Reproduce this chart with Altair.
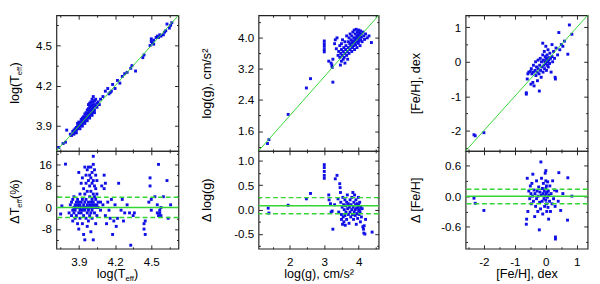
import altair as alt
import pandas as pd

FONT = "Liberation Sans"
BLUE = "#1010e6"
GREEN = "#33d633"
FRAME = "#222222"

# ---------------- data ----------------
# Panel 1: log(Teff)
teff_top = [
    (3.735, 3.74), (3.77, 3.77), (3.79, 3.78), (3.80, 3.87), (3.83, 3.84), (3.84, 3.83),
    (3.85, 3.86), (3.86, 3.85), (3.86, 3.87), (3.87, 3.86), (3.87, 3.88), (3.88, 3.87),
    (3.88, 3.89), (3.89, 3.88), (3.89, 3.90), (3.90, 3.89), (3.90, 3.91), (3.90, 3.93),
    (3.91, 3.90), (3.91, 3.92), (3.92, 3.91), (3.92, 3.93), (3.92, 3.95), (3.93, 3.92),
    (3.93, 3.94), (3.93, 3.96), (3.94, 3.93), (3.94, 3.95), (3.94, 3.97), (3.95, 3.94),
    (3.95, 3.96), (3.95, 3.99), (3.96, 3.95), (3.96, 3.97), (3.96, 4.00), (3.97, 3.96),
    (3.97, 3.99), (3.97, 4.02), (3.98, 3.97), (3.98, 4.00), (3.98, 4.03), (3.98, 4.06),
    (3.99, 3.98), (3.99, 4.01), (3.99, 4.04), (3.99, 4.07), (4.00, 3.99), (4.00, 4.02),
    (4.00, 4.05), (4.00, 4.08), (4.01, 4.00), (4.01, 4.03), (4.01, 4.06), (4.01, 4.10),
    (4.02, 4.01), (4.02, 4.04), (4.02, 4.08), (4.02, 4.12), (4.03, 4.02), (4.03, 4.06),
    (4.03, 4.09), (4.04, 4.05), (4.04, 4.10), (4.05, 4.04), (4.05, 4.07), (4.06, 4.08),
    (4.07, 4.06), (4.08, 4.10), (4.10, 4.12), (4.12, 4.16), (4.14, 4.18), (4.15, 4.14),
    (4.16, 4.15), (4.17, 4.16), (4.18, 4.21), (4.20, 4.18), (4.22, 4.24), (4.24, 4.22),
    (4.26, 4.27), (4.28, 4.29), (4.30, 4.30), (4.33, 4.33), (4.34, 4.35), (4.37, 4.31),
    (4.43, 4.41), (4.44, 4.43), (4.49, 4.50), (4.50, 4.53), (4.50, 4.55), (4.51, 4.52),
    (4.52, 4.54), (4.52, 4.51), (4.54, 4.56), (4.55, 4.57), (4.56, 4.56), (4.57, 4.58),
    (4.58, 4.57), (4.60, 4.58), (4.61, 4.60), (4.62, 4.61), (4.63, 4.66), (4.65, 4.63),
    (4.66, 4.65), (4.67, 4.67), (3.86, 3.84), (3.88, 3.85), (3.89, 3.92), (3.91, 3.88),
    (3.93, 3.90), (3.95, 3.92), (3.97, 3.94), (3.99, 3.96), (4.01, 3.98), (4.03, 4.00),
]
teff_res = [
    (3.75, -2.4), (3.76, 0.6), (3.79, 16.1), (3.82, -2), (3.83, 1), (3.84, -3), (3.84, 2),
    (3.85, -1), (3.85, 3), (3.85, -5), (3.86, 0), (3.86, -2), (3.86, 4), (3.87, -4),
    (3.87, 1), (3.87, -1), (3.88, 2), (3.88, -3), (3.88, 0), (3.89, -6), (3.89, 1),
    (3.89, 3), (3.90, -2), (3.90, 0), (3.90, 2), (3.90, -8), (3.90, 13), (3.91, -1),
    (3.91, 1), (3.91, -4), (3.91, 5), (3.92, 0), (3.92, 2), (3.92, -2), (3.92, 9),
    (3.93, -1), (3.93, 3), (3.93, -6), (3.93, 11), (3.94, 0), (3.94, 1), (3.94, -3),
    (3.94, 7), (3.94, -10), (3.95, 2), (3.95, -1), (3.95, 15), (3.95, 5), (3.95, -12),
    (3.96, 0), (3.96, 3), (3.96, -4), (3.96, 9), (3.96, 12), (3.97, 1), (3.97, -2),
    (3.97, 6), (3.97, 14), (3.97, -7), (3.98, 0), (3.98, 2), (3.98, -1), (3.98, 10),
    (3.98, 15), (3.98, -5), (3.99, 1), (3.99, -3), (3.99, 4), (3.99, 8), (3.99, 12),
    (4.00, 0), (4.00, 2), (4.00, -2), (4.00, 6), (4.00, 11), (4.00, 15), (4.00, -9),
    (4.01, 1), (4.01, -1), (4.01, 3), (4.01, 9), (4.01, 13), (4.01, -4), (4.02, 0),
    (4.02, 2), (4.02, 5), (4.02, 10), (4.02, 16), (4.02, 19), (4.02, -12), (4.03, 1),
    (4.03, -2), (4.03, 4), (4.03, 8), (4.03, 14), (4.04, 0), (4.04, 3), (4.04, 7),
    (4.04, 12), (4.04, -6), (4.05, 1), (4.05, 5), (4.05, 10), (4.05, -3), (4.06, 2),
    (4.06, 0), (4.08, 2), (4.08, -1), (4.09, 8), (4.10, 1), (4.11, 12), (4.11, 7),
    (4.12, 9), (4.12, -3), (4.13, -6), (4.14, 2), (4.15, -1), (4.16, -4), (4.17, 3),
    (4.18, -10), (4.19, -5), (4.20, 1), (4.21, -7), (4.22, -4), (4.23, 9), (4.25, -1),
    (4.26, 3), (4.27, -5), (4.28, -2), (4.30, 1), (4.32, -2), (4.33, -14), (4.35, -3),
    (4.36, -2), (4.44, -6), (4.44, -8), (4.45, -10), (4.45, -5), (4.48, 2), (4.49, 11),
    (4.49, 8), (4.50, 3), (4.50, -1), (4.53, 4), (4.55, -2), (4.55, 1), (4.56, -3),
    (4.56, 16), (4.57, -1), (4.57, -2), (4.58, 0), (4.58, -3), (4.60, 4), (4.63, 10),
    (4.64, -4), (4.66, 1),
]

# Panel 2: log(g)
logg_top = [
    (1.35, 1.28), (1.39, 1.38), (1.95, 2.03), (2.48, 2.71), (2.60, 2.95), (3.13, 3.40),
    (3.23, 3.24), (3.25, 2.86), (3.00, 3.64), (3.00, 3.70), (3.00, 3.78), (3.00, 3.85),
    (3.00, 3.92), (3.20, 3.35), (3.22, 3.30), (3.25, 3.45), (3.30, 3.85), (3.32, 3.95),
    (3.35, 3.72), (3.37, 4.00), (3.40, 3.55), (3.42, 3.65), (3.45, 3.50), (3.45, 3.80),
    (3.47, 3.30), (3.48, 3.60), (3.50, 3.40), (3.50, 3.70), (3.50, 3.85), (3.52, 3.55),
    (3.53, 3.95), (3.55, 3.45), (3.55, 3.65), (3.57, 3.75), (3.58, 3.50), (3.60, 3.60),
    (3.60, 3.90), (3.60, 3.35), (3.62, 3.70), (3.63, 3.80), (3.65, 3.55), (3.65, 4.05),
    (3.67, 3.65), (3.68, 3.45), (3.70, 3.75), (3.70, 3.90), (3.72, 3.60), (3.72, 4.00),
    (3.74, 3.85), (3.75, 3.70), (3.75, 4.10), (3.77, 3.80), (3.78, 3.95), (3.80, 3.65),
    (3.80, 4.05), (3.80, 3.88), (3.82, 3.75), (3.83, 4.15), (3.84, 3.92), (3.85, 3.80),
    (3.86, 4.00), (3.87, 4.20), (3.88, 3.70), (3.88, 3.88), (3.90, 4.10), (3.90, 3.95),
    (3.91, 3.82), (3.92, 4.00), (3.93, 4.22), (3.94, 3.90), (3.95, 4.05), (3.95, 3.75),
    (3.96, 4.15), (3.97, 3.98), (3.98, 4.08), (3.99, 3.86), (4.00, 4.20), (4.00, 4.00),
    (4.01, 3.92), (4.02, 4.12), (4.03, 4.05), (4.04, 3.80), (4.05, 4.18), (4.06, 3.95),
    (4.07, 4.10), (4.08, 4.02), (4.10, 3.90), (4.12, 4.15), (4.15, 4.05), (4.17, 3.96),
    (4.20, 4.10), (4.25, 4.00), (4.30, 4.05), (4.37, 3.88),
]
logg_res = [
    (1.37, 0.03), (1.39, -0.07), (1.95, 0.09), (2.48, 0.22), (2.60, 0.33), (3.00, 0.92),
    (3.00, 0.86), (3.00, 0.78), (3.00, 0.70), (3.00, 0.64), (3.13, 0.30), (3.14, 0.20),
    (3.18, 0.12), (3.20, -0.05), (3.23, -0.03), (3.25, -0.40), (3.30, 0.10), (3.32, 0.63),
    (3.37, 0.70), (3.40, 0.22), (3.42, -0.05), (3.45, 0.53), (3.46, 0.45), (3.47, 0.35),
    (3.48, 0.15), (3.50, -0.10), (3.50, -0.20), (3.52, 0.05), (3.53, -0.30), (3.54, 0.25),
    (3.55, -0.15), (3.56, 0.10), (3.57, -0.25), (3.58, 0.00), (3.60, 0.20), (3.60, -0.12),
    (3.61, -0.32), (3.62, 0.08), (3.63, -0.05), (3.65, 0.15), (3.65, -0.20), (3.67, 0.30),
    (3.68, 0.02), (3.70, -0.10), (3.70, 0.12), (3.72, -0.28), (3.73, 0.05), (3.75, 0.20),
    (3.75, -0.05), (3.77, -0.15), (3.78, 0.10), (3.80, 0.00), (3.80, 0.25), (3.82, -0.10),
    (3.83, 0.35), (3.84, 0.05), (3.85, -0.20), (3.86, 0.15), (3.87, -0.05), (3.88, 0.30),
    (3.90, 0.00), (3.90, -0.12), (3.91, 0.10), (3.92, 0.20), (3.93, -0.30), (3.94, 0.03),
    (3.95, -0.08), (3.96, 0.12), (3.97, -0.18), (3.98, 0.05), (3.99, 0.25), (4.00, -0.02),
    (4.00, 0.10), (4.01, -0.10), (4.02, 0.00), (4.03, 0.15), (4.04, -0.05), (4.05, -0.25),
    (4.06, 0.05), (4.08, -0.15), (4.10, 0.02), (4.12, -0.35), (4.14, -0.40), (4.16, -0.33),
    (4.15, -0.48), (4.18, -0.50), (4.20, -0.20), (4.39, -0.46),
]

# Panel 3: [Fe/H]
feh_top = [
    (-2.32, -2.12), (-2.28, -2.15), (-2.00, -2.06), (-0.63, -0.94), (-0.63, -0.90),
    (-0.60, -0.50), (-0.58, -0.35), (-0.55, -0.30), (-0.50, -0.28), (-0.48, -0.65),
    (-0.47, -0.20), (-0.45, -0.35), (-0.42, -0.60), (-0.40, -0.10), (-0.40, -0.30),
    (-0.38, -0.70), (-0.35, -0.25), (-0.33, 0.00), (-0.32, -0.40), (-0.30, -0.15),
    (-0.28, -0.30), (-0.27, -0.55), (-0.25, 0.05), (-0.25, -0.20), (-0.22, -0.35),
    (-0.21, -0.85), (-0.20, -0.10), (-0.18, 0.10), (-0.17, -0.25), (-0.15, -0.45),
    (-0.14, 0.00), (-0.12, -0.15), (-0.10, 0.54), (-0.10, 0.20), (-0.09, -0.30),
    (-0.08, 0.05), (-0.06, -0.10), (-0.05, 0.30), (-0.04, -0.20), (-0.03, 0.00),
    (-0.02, 0.15), (0.00, 0.45), (0.00, -0.05), (0.01, 0.10), (0.02, -0.25), (0.03, 0.05),
    (0.04, 0.20), (0.05, -0.10), (0.06, 0.00), (0.07, 0.35), (0.08, -0.15), (0.09, 0.12),
    (0.10, 0.05), (0.12, -0.05), (0.13, 0.25), (0.15, 0.10), (0.17, -0.30), (0.20, 0.15),
    (0.20, 0.50), (0.22, 0.00), (0.25, 0.30), (0.28, 0.10), (0.30, -0.45), (0.31, -0.50),
    (0.33, 0.40), (0.38, 0.20), (0.42, 0.85), (0.45, 0.35), (0.50, 0.50), (0.55, 0.45),
    (0.60, 0.60), (0.71, 0.22), (0.76, 1.07), (0.84, 0.80),
]
feh_res = [
    (-2.32, -0.04), (-2.28, -0.14), (-2.00, -0.28), (-0.63, -0.55), (-0.62, -0.45),
    (-0.60, 0.35), (-0.58, -0.30), (-0.55, 0.10), (-0.52, -0.05), (-0.50, 0.20),
    (-0.48, 0.05), (-0.47, -0.15), (-0.45, 0.25), (-0.43, 0.00), (-0.42, 0.43),
    (-0.40, -0.10), (-0.38, 0.12), (-0.36, -0.40), (-0.35, 0.05), (-0.33, -0.20),
    (-0.30, 0.30), (-0.30, -0.05), (-0.28, 0.10), (-0.26, -0.30), (-0.25, 0.00),
    (-0.23, 0.18), (-0.21, -0.66), (-0.20, -0.12), (-0.19, 0.08), (-0.17, -0.25),
    (-0.16, 0.67), (-0.15, 0.02), (-0.14, 0.35), (-0.12, -0.10), (-0.11, 0.15),
    (-0.10, -0.35), (-0.09, 0.05), (-0.08, 0.25), (-0.06, -0.05), (-0.05, 0.10),
    (-0.04, -0.20), (-0.03, 0.00), (-0.02, 0.45), (0.00, 0.50), (0.00, 0.30), (0.00, 0.15),
    (0.00, -0.08), (0.01, 0.05), (0.02, -0.15), (0.02, 0.20), (0.03, -0.30), (0.04, 0.08),
    (0.05, -0.02), (0.06, 0.28), (0.07, -0.22), (0.08, 0.10), (0.09, -0.45), (0.10, 0.02),
    (0.12, -0.10), (0.13, 0.20), (0.15, -0.30), (0.17, 0.05), (0.20, -0.15), (0.22, 0.30),
    (0.25, -0.05), (0.28, 0.12), (0.30, -0.20), (0.31, -0.84), (0.31, -0.80), (0.35, 0.10),
    (0.40, -0.10), (0.42, 0.46), (0.48, -0.28), (0.55, 0.05), (0.71, 0.36), (0.70, -0.47),
    (0.84, 0.00),
]

# axis ranges / ticks
teff_dom = [3.715, 4.725]
teff_major = [3.9, 4.2, 4.5]
teff_minor = [3.75, 4.05, 4.35, 4.65]
dteff_dom = [-15.3, 21.0]
dteff_major = [-8, 0, 8, 16]
dteff_minor = [-12, -4, 4, 12, 20]
dteff_solid = [0.0]
dteff_dashed = [3.8, -3.7]

logg_dom = [1.09, 4.58]
logg_xmajor = [2, 3, 4]
logg_xminor = [1.5, 2.5, 3.5, 4.5]
logg_ymajor = [1.6, 2.4, 3.2, 4.0]
logg_yminor = [1.2, 2.0, 2.8, 3.6, 4.4]
dlogg_dom = [-0.8, 1.2]
dlogg_major = [-0.5, 0.0, 0.5, 1.0]
dlogg_minor = [-0.75, -0.25, 0.25, 0.75]
dlogg_solid = [0.08]
dlogg_dashed = [0.245, -0.085]

feh_dom = [-2.59, 1.35]
feh_major = [-2, -1, 0, 1]
feh_minor = [-2.5, -1.5, -0.5, 0.5]
dfeh_dom = [-1.03, 0.886]
dfeh_major = [-0.6, 0.0, 0.6]
dfeh_minor = [-0.9, -0.3, 0.3]
dfeh_solid = [0.0]
dfeh_dashed = [0.137, -0.15]

# ---------------- layout constants ----------------
W1, W2, W3 = 126, 124, 126
HT, HB = 140, 101

ARIAL_W = {'l': 222, 'o': 556, 'g': 556, '(': 333, ')': 333, 'T': 611, 'e': 556,
           'f': 278, ' ': 278, '%': 889, 'Δ': 668}


def tw(s, fs):
    return sum(ARIAL_W[c] for c in s) * fs / 1000.0


def fmt_expr(fmt):
    return "(datum.value < 0 ? '-' : '') + format(abs(datum.value), '%s')" % fmt


def make_axis(orient, values, major, show_labels=False, fmt='d', title=None,
              title_x=None, title_y=None, label_pad=5):
    size = 4 if major else 2
    kw = dict(orient=orient, values=values, tickSize=size, offset=-size, domain=False,
              grid=False, ticks=True, tickColor=FRAME, tickWidth=1, labels=show_labels)
    if show_labels:
        kw.update(labelExpr=fmt_expr(fmt), labelFont=FONT, labelFontSize=12,
                  labelColor='#000000', labelPadding=label_pad, labelOverlap=False,
                  labelFlush=False)
    if title is not None:
        kw.update(title=title, titleFont=FONT, titleFontSize=13, titleFontWeight='normal',
                  titleColor='#000000', titleX=title_x, titleY=title_y, titleAlign='center')
        if orient == 'left':
            kw.update(titleAngle=270, titleBaseline='bottom')
        else:
            kw.update(titleAngle=0, titleBaseline='top')
    else:
        kw['title'] = None
    return alt.Axis(**kw)


def title_layers(pieces, cx, cy, vertical):
    total = sum(tw(t, fs) for t, fs, sh in pieces)
    out = []
    pos = 0.0
    for t, fs, sh in pieces:
        if vertical:
            x, y, ang = cx + sh, cy + total / 2 - pos, 270
        else:
            x, y, ang = cx - total / 2 + pos, cy + sh, 0
        out.append(
            alt.Chart(pd.DataFrame({'t': [t]})).mark_text(
                align='left', baseline='alphabetic', angle=ang, font=FONT, fontSize=fs,
                color='#000000'
            ).encode(x=alt.value(x), y=alt.value(y), text='t:N')
        )
        pos += tw(t, fs)
    return out


def panel(pts, xdom, ydom, xmaj, xmin, ymaj, ymin, w, h, xfmt, yfmt, xlabels,
          xtitle, ytitle, ytitle_x, extra):
    df = pd.DataFrame(pts, columns=['x', 'y'])
    xs = alt.Scale(domain=xdom, nice=False, zero=False)
    ys = alt.Scale(domain=ydom, nice=False, zero=False)
    base = alt.Chart(df)
    main = base.mark_square(size=9, color=BLUE, opacity=1).encode(
        x=alt.X('x:Q', scale=xs, axis=make_axis('bottom', xmaj, True, xlabels, xfmt,
                                                 xtitle, w / 2, 24, 8)),
        y=alt.Y('y:Q', scale=ys, axis=make_axis('left', ymaj, True, True, yfmt,
                                                 ytitle, ytitle_x, h / 2, 5)),
    )
    d1 = base.mark_square(size=9, opacity=0).encode(
        x=alt.X('x:Q', scale=xs, axis=make_axis('top', xmaj, True)),
        y=alt.Y('y:Q', scale=ys, axis=make_axis('right', ymaj, True)),
    )
    d2 = base.mark_square(size=9, opacity=0).encode(
        x=alt.X('x:Q', scale=xs, axis=make_axis('bottom', xmin, False)),
        y=alt.Y('y:Q', scale=ys, axis=make_axis('left', ymin, False)),
    )
    d3 = base.mark_square(size=9, opacity=0).encode(
        x=alt.X('x:Q', scale=xs, axis=make_axis('top', xmin, False)),
        y=alt.Y('y:Q', scale=ys, axis=make_axis('right', ymin, False)),
    )
    layers = [main, d1, d2, d3] + extra(xs, ys)
    return alt.layer(*layers).resolve_axis(x='independent', y='independent').properties(
        width=w, height=h)


def one_to_one(dom):
    def f(xs, ys):
        ldf = pd.DataFrame({'x': dom, 'y': dom})
        return [alt.Chart(ldf).mark_line(color=GREEN, strokeWidth=1).encode(
            x=alt.X('x:Q', scale=xs, axis=None), y=alt.Y('y:Q', scale=ys, axis=None))]
    return f


def hlines(solid, dashed):
    def f(xs, ys):
        a = alt.Chart(pd.DataFrame({'v': solid})).mark_rule(
            color=GREEN, strokeWidth=1.5).encode(y=alt.Y('v:Q', scale=ys, axis=None))
        b = alt.Chart(pd.DataFrame({'v': dashed})).mark_rule(
            color=GREEN, strokeWidth=1.5, strokeDash=[5, 3]).encode(
            y=alt.Y('v:Q', scale=ys, axis=None))
        return [a, b]
    return f


def with_titles(fn, layers_fn):
    def f(xs, ys):
        return fn(xs, ys) + layers_fn()
    return f


XB = -38.5  # baseline of hand-built rotated titles (panel 1)

p1_top = panel(teff_top, teff_dom, teff_dom, teff_major, teff_minor, teff_major, teff_minor,
               W1, HT, '.1f', '.1f', False, None, None, None,
               with_titles(one_to_one(teff_dom), lambda: title_layers(
                   [("log(T", 13, 0), ("eff", 8, 3), (")", 13, 0)], XB, HT / 2, True)))
p1_bot = panel(teff_res, teff_dom, dteff_dom, teff_major, teff_minor, dteff_major, dteff_minor,
               W1, HB, '.1f', 'd', True, None, None, None,
               with_titles(hlines(dteff_solid, dteff_dashed), lambda: title_layers(
                   [("ΔT", 13, 0), ("eff", 8, 3), (" (%)", 13, 0)], XB, HB / 2, True)
                   + title_layers([("log(T", 13, 0), ("eff", 8, 3), (")", 13, 0)],
                                  W1 / 2, HB + 30.5, False)))

p2_top = panel(logg_top, logg_dom, logg_dom, logg_xmajor, logg_xminor, logg_ymajor, logg_yminor,
               W2, HT, 'd', '.1f', False, None, "log(g), cm/s²", -50.7, one_to_one(logg_dom))
p2_bot = panel(logg_res, logg_dom, dlogg_dom, logg_xmajor, logg_xminor, dlogg_major, dlogg_minor,
               W2, HB, 'd', '.1f', True, "log(g), cm/s²", "Δ log(g)", -50.7,
               hlines(dlogg_solid, dlogg_dashed))

p3_top = panel(feh_top, feh_dom, feh_dom, feh_major, feh_minor, feh_major, feh_minor,
               W3, HT, 'd', 'd', False, None, "[Fe/H], dex", -48.3, one_to_one(feh_dom))
p3_bot = panel(feh_res, feh_dom, dfeh_dom, feh_major, feh_minor, dfeh_major, dfeh_minor,
               W3, HB, 'd', '.1f', True, "[Fe/H], dex", "Δ [Fe/H]", -48.3,
               hlines(dfeh_solid, dfeh_dashed))

col1 = alt.vconcat(p1_top, p1_bot, spacing=0, bounds='flush')
col2 = alt.vconcat(p2_top, p2_bot, spacing=0, bounds='flush')
col3 = alt.vconcat(p3_top, p3_bot, spacing=0, bounds='flush')

inner = alt.hconcat(col1, col2, spacing=18.7)
chart = alt.hconcat(inner, col3, spacing=28.5).properties(
    padding={'left': 0, 'top': 0, 'right': 1, 'bottom': 0}
).configure_view(stroke=FRAME, strokeWidth=1.2)

chart.save("out.html", embed_options={"renderer": "svg", "actions": False})
